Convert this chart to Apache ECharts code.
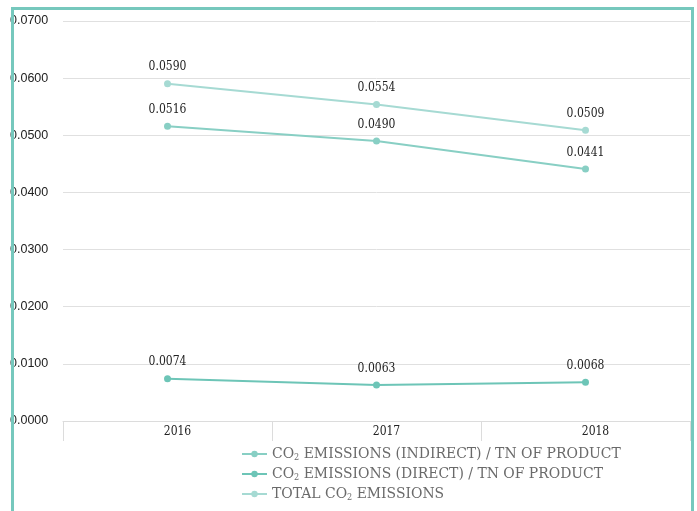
<!DOCTYPE html>
<html>
<head>
<meta charset="utf-8">
<style>
  html, body { margin: 0; padding: 0; background: #fff; }
  #chart { width: 697px; height: 511px; }
</style>
<script src="https://cdn.jsdelivr.net/npm/echarts@6/dist/echarts.min.js"></script>
</head>
<body>
<div id="chart"></div>
<script>
// Reporting years
const years = ['2016', '2017', '2018'];

// CO2 intensity per tonne of product
const indirectPerTn = [0.0516, 0.0490, 0.0441];
const directPerTn = [0.0074, 0.0063, 0.0068];
const totalCo2 = [0.0590, 0.0554, 0.0509];

// Legend names (sub|2 renders the subscript in CO2)
const seriesNames = [
  'CO{sub|2} EMISSIONS (INDIRECT) / TN OF PRODUCT',
  'CO{sub|2} EMISSIONS (DIRECT) / TN OF PRODUCT',
  'TOTAL CO{sub|2} EMISSIONS'
];

const colors = ['#88cfc4', '#6dc5b7', '#a6dad3'];
const serif = '"DejaVu Serif Condensed", "DejaVu Serif", serif';

function lineSeries(name, data, color) {
  return {
    name: name,
    type: 'line',
    data: data,
    symbol: 'circle',
    symbolSize: 7,
    lineStyle: { width: 2, color: color },
    itemStyle: { color: color },
    label: {
      show: true,
      position: 'top',
      distance: 7,
      color: '#222',
      fontFamily: serif,
      fontSize: 12,
      formatter: p => p.value.toFixed(4)
    }
  };
}

const chart = echarts.init(document.getElementById('chart'));
chart.setOption({
  animation: false,
  grid: { left: 63, right: 7, top: 21, bottom: 90 },
  legend: {
    orient: 'vertical',
    left: 241,
    top: 446,
    height: 120,
    padding: 0,
    itemWidth: 25,
    itemHeight: 8,
    itemGap: 4,
    textStyle: {
      color: '#6a6a6a',
      fontFamily: serif,
      fontSize: 15.5,
      lineHeight: 16,
      rich: {
        sub: { fontSize: 9, lineHeight: 16, verticalAlign: 'bottom', padding: [6, 0, 0, 0], color: '#6a6a6a', fontFamily: serif }
      }
    },
    data: seriesNames
  },
  xAxis: {
    type: 'category',
    data: years,
    boundaryGap: true,
    axisLine: { lineStyle: { color: '#dcdcdc', width: 1 } },
    axisTick: { show: true, length: 20, lineStyle: { color: '#dcdcdc' } },
    axisLabel: {
      color: '#222',
      fontFamily: serif,
      fontSize: 12,
      margin: 5,
      padding: [0, 0, 0, 20]
    }
  },
  yAxis: {
    type: 'value',
    min: 0,
    max: 0.07,
    interval: 0.01,
    axisLine: { show: false },
    axisTick: { show: false },
    splitLine: { lineStyle: { color: '#e0e0e0', width: 1 } },
    axisLabel: {
      color: '#222',
      fontFamily: '"Liberation Sans", Arial, sans-serif',
      fontSize: 12.5,
      align: 'left',
      margin: 53,
      formatter: v => v.toFixed(4)
    }
  },
  series: [
    lineSeries(seriesNames[0], indirectPerTn, colors[0]),
    lineSeries(seriesNames[1], directPerTn, colors[1]),
    lineSeries(seriesNames[2], totalCo2, colors[2])
  ],
  graphic: [{
    type: 'rect',
    z: 100,
    silent: true,
    shape: { x: 12.5, y: 8.5, width: 680, height: 600 },
    style: { fill: 'none', stroke: '#76c8bd', lineWidth: 3 }
  }]
});
</script>
</body>
</html>
